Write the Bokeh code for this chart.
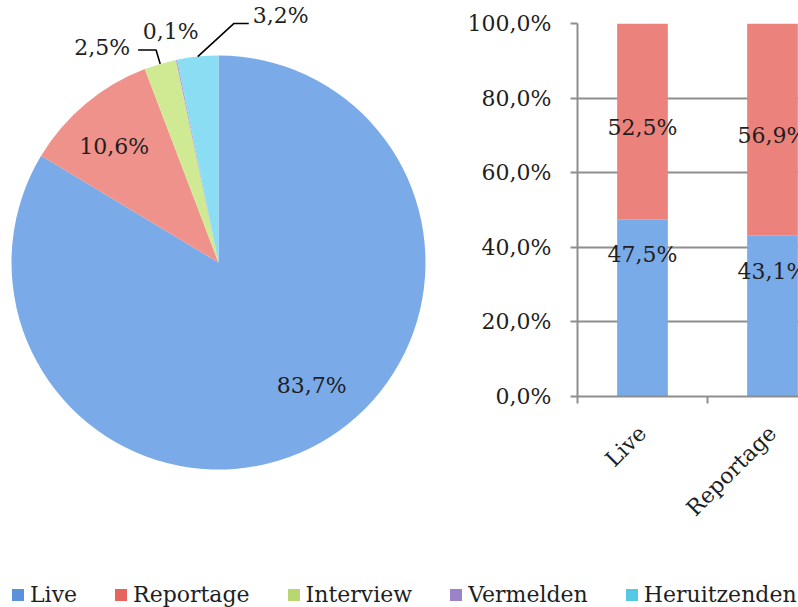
import numpy as np
from bokeh.plotting import figure
from bokeh.layouts import column, row
from bokeh.models import Range1d, FixedTicker, ColumnDataSource, Legend, LegendItem
from bokeh.core.properties import value
from bokeh.embed import file_html
from bokeh.resources import INLINE

# ---------------- data ----------------
pie_categories = ["Live", "Reportage", "Interview", "Vermelden", "Heruitzenden"]
pie_shares = [83.7, 10.6, 2.5, 0.1, 3.2]
pie_labels = ["83,7%", "10,6%", "2,5%", "0,1%", "3,2%"]

bar_categories = ["Live", "Reportage"]
bar_live = [47.5, 43.1]
bar_reportage = [52.5, 56.9]
bar_live_labels = ["47,5%", "43,1%"]
bar_reportage_labels = ["52,5%", "56,9%"]

y_ticks = [0, 20, 40, 60, 80, 100]
y_tick_labels = ["0,0%", "20,0%", "40,0%", "60,0%", "80,0%", "100,0%"]

# ---------------- style ----------------
FONT = "DejaVu Serif"
FS = "22px"
TXT = "#1f1f1f"
pie_colors = ["#7AAAE8", "#F0928C", "#D0EA93", "#B49DD6", "#8ADDF2"]
legend_colors = ["#5A92DA", "#E5645D", "#B8D771", "#9C82C6", "#55C8E3"]
bar_blue = "#79ABE8"
bar_red = "#EC827C"
AX = "#8E8E8E"

TOP_H = 553
W_PIE = 448
W_BAR = 350

# ---------------- pie ----------------
R = 207
CX, CY = 218, 262  # pie centre in the pie panel's pixel frame
pie = figure(width=W_PIE, height=TOP_H, x_range=Range1d(-CX, W_PIE - CX), y_range=Range1d(CY - TOP_H, CY),
             output_backend="svg", toolbar_location=None, min_border=0,
             x_axis_location=None, y_axis_location=None)
pie.frame_align = False
pie.grid.visible = False
pie.outline_line_color = None

fr = np.array(pie_shares) / sum(pie_shares)
cum = np.concatenate([[0.0], np.cumsum(fr)])
start = np.pi / 2 - 2 * np.pi * cum[:-1]
end = np.pi / 2 - 2 * np.pi * cum[1:]
mid = np.pi / 2 - 2 * np.pi * (cum[:-1] + cum[1:]) / 2

src = ColumnDataSource(dict(start=start, end=end, color=pie_colors))
pie.wedge(x=0, y=0, radius=R, start_angle="start", end_angle="end", direction="clock",
          fill_color="color", line_color=None, source=src)

# inside labels (Live, Reportage)
in_r = [0.745, 0.755]
in_shift = [np.radians(7.7), np.radians(2.0)]
ix = [in_r[i] * R * np.cos(mid[i] + in_shift[i]) for i in range(2)]
iy = [in_r[i] * R * np.sin(mid[i] + in_shift[i]) for i in range(2)]
pie.text(x=ix, y=iy, text=pie_labels[:2], text_align="center", text_baseline="middle",
         text_font=value(FONT), text_font_size=FS, text_color=TXT)

# Interview: leader to the left
a = mid[2]
ax0, ay0 = R * np.cos(a), R * np.sin(a)
ex, ey = 1.07 * R * np.cos(a), 1.07 * R * np.sin(a)
pie.line(x=[ax0, ex, ex - 18], y=[ay0, ey, ey], line_color="black", line_width=1.6)
pie.text(x=[ex - 26], y=[ey + 2], text=[pie_labels[2]], text_align="right", text_baseline="middle",
         text_font=value(FONT), text_font_size=FS, text_color=TXT)

# Vermelden: label just outside
a = mid[3]
pie.text(x=[1.14 * R * np.cos(a)], y=[1.14 * R * np.sin(a)], text=[pie_labels[3]],
         text_align="center", text_baseline="middle",
         text_font=value(FONT), text_font_size=FS, text_color=TXT)

# Heruitzenden: leader up-right
a = mid[4]
hx0, hy0 = R * np.cos(a), R * np.sin(a)
hx1, hy1 = hx0 + 36, hy0 + 33
pie.line(x=[hx0, hx1, hx1 + 15], y=[hy0, hy1, hy1], line_color="black", line_width=1.6)
pie.text(x=[hx1 + 19], y=[hy1 + 8], text=[pie_labels[4]], text_align="left", text_baseline="middle",
         text_font=value(FONT), text_font_size=FS, text_color=TXT)

# ---------------- stacked bar ----------------
cat_px = 130.0
B_LEFT, B_TOP, B_BOTTOM = 129, 23, TOP_H - 396
frame_w = W_BAR - B_LEFT
bar = figure(width=W_BAR, height=TOP_H, x_range=Range1d(0, frame_w / cat_px), y_range=Range1d(0, 100),
             output_backend="svg", toolbar_location=None,
             min_border_left=B_LEFT, min_border_top=B_TOP, min_border_bottom=B_BOTTOM, min_border_right=0)
bar.frame_align = False
bar.outline_line_color = None
bar.xgrid.visible = False

xs = [i + 0.5 for i in range(len(bar_categories))]
tops = [l + r for l, r in zip(bar_live, bar_reportage)]
bsrc = ColumnDataSource(dict(x=xs, live=bar_live, top=tops))
bar.vbar(x="x", bottom=0, top="live", width=0.39, fill_color=bar_blue, line_color=None, source=bsrc)
bar.vbar(x="x", bottom="live", top="top", width=0.39, fill_color=bar_red, line_color=None, source=bsrc)

red_y = [l + r / 2 - 1.5 for l, r in zip(bar_live, bar_reportage)]
blue_y = [l - 9.5 for l in bar_live]
bar.text(x=xs, y=red_y, text=bar_reportage_labels, text_align="center", text_baseline="middle",
         text_font=value(FONT), text_font_size=FS, text_color=TXT)
bar.text(x=xs, y=blue_y, text=bar_live_labels, text_align="center", text_baseline="middle",
         text_font=value(FONT), text_font_size=FS, text_color=TXT)

yax = bar.yaxis[0]
yax.ticker = FixedTicker(ticks=y_ticks)
yax.major_label_overrides = {t: l for t, l in zip(y_ticks, y_tick_labels)}
yax.major_tick_out = 7
yax.major_tick_in = 0
yax.minor_tick_line_color = None
yax.axis_line_color = AX
yax.axis_line_width = 2
yax.major_tick_line_color = AX
yax.major_tick_line_width = 2
yax.major_label_text_font = FONT
yax.major_label_text_font_size = FS
yax.major_label_text_color = TXT
yax.major_label_standoff = 19

bar.ygrid.ticker = FixedTicker(ticks=y_ticks)
bar.ygrid.grid_line_color = AX
bar.ygrid.grid_line_width = 2

xax = bar.xaxis[0]
xax.ticker = FixedTicker(ticks=xs, minor_ticks=list(range(len(bar_categories) + 1)))
xax.major_label_overrides = {x: c for x, c in zip(xs, bar_categories)}
xax.major_label_orientation = np.pi / 4
xax.major_tick_out = 0
xax.major_tick_in = 0
xax.minor_tick_out = 7
xax.minor_tick_in = 0
xax.minor_tick_line_color = AX
xax.minor_tick_line_width = 2
xax.axis_line_color = AX
xax.axis_line_width = 2
xax.major_label_text_font = FONT
xax.major_label_text_font_size = FS
xax.major_label_text_color = TXT
xax.major_label_standoff = 26

# ---------------- legend ----------------
LEG_H = 607 - TOP_H
leg = figure(width=W_PIE + W_BAR, height=LEG_H, x_range=Range1d(0, 1), y_range=Range1d(0, 1),
             output_backend="svg", toolbar_location=None, min_border=0,
             x_axis_location=None, y_axis_location=None)
leg.frame_align = False
leg.grid.visible = False
leg.outline_line_color = None
items = []
for c, col in zip(pie_categories, legend_colors):
    # invisible (off-range) swatch, used only to draw the legend key
    r = leg.quad(left=[-3], right=[-2], top=[-2], bottom=[-3], fill_color=col, line_color=None)
    items.append(LegendItem(label=c, renderers=[r]))
legend = Legend(items=items, orientation="horizontal", location=(10, 0),
                glyph_width=15, glyph_height=15, label_standoff=5, spacing=36,
                padding=0, margin=0, border_line_color=None, background_fill_alpha=0,
                label_text_font=FONT, label_text_font_size=FS, label_text_color=TXT)
leg.add_layout(legend)

layout = column(row(pie, bar, spacing=0), leg, spacing=0)
open("out.html", "w").write(file_html(layout, INLINE))
